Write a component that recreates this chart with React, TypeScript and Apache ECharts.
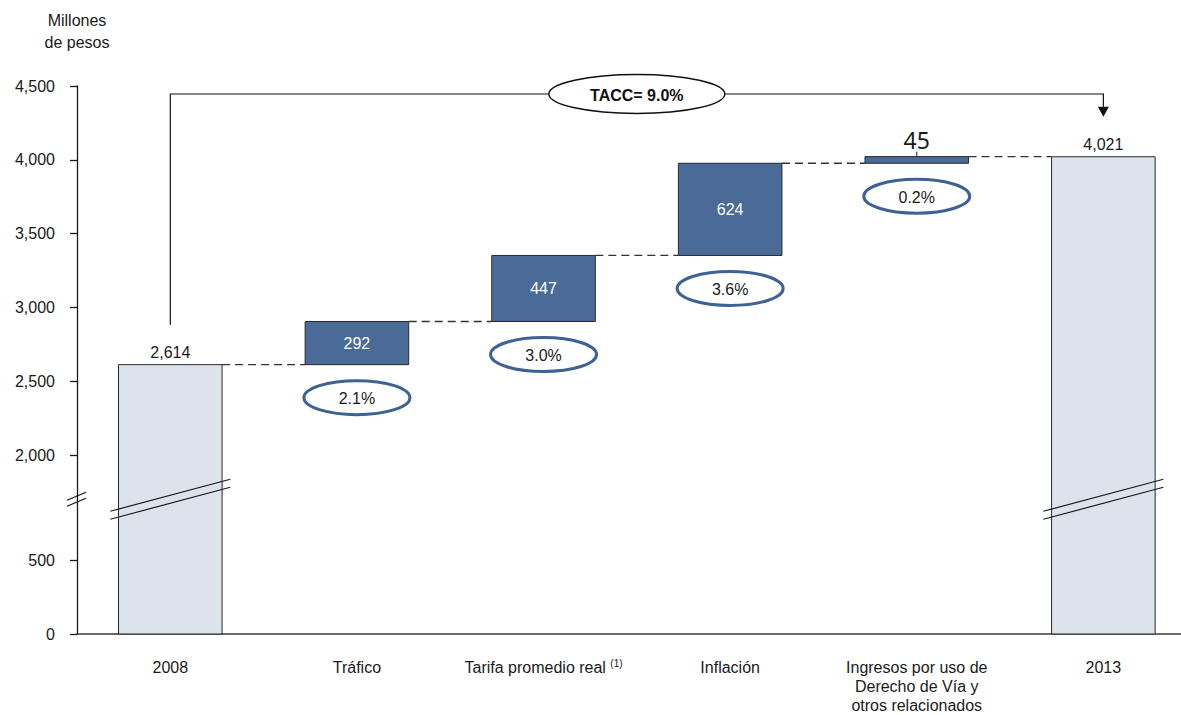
import React, { useEffect, useRef } from 'react';
import * as echarts from 'echarts';

// Revenue bridge 2008 -> 2013 (millones de pesos)
const categories = [
  '2008',
  'Tráfico',
  'Tarifa promedio real',
  'Inflación',
  'Ingresos por uso de\nDerecho de Vía y\notros relacionados',
  '2013',
];
const footnoteMarks = ['', '', '(1)', '', '', ''];
const startTotal = 2614;
const increments = [292, 447, 624, 45];
const endTotal = 4021;
const growthRates = ['2.1%', '3.0%', '3.6%', '0.2%'];
const cagrText = 'TACC= 9.0%';
const yTicks = [0, 500, 2000, 2500, 3000, 3500, 4000, 4500];
const yTitle = 'Millones\nde pesos';

// Broken value axis: the span 500..2000 is squeezed into CUT_SPAN axis units.
const CUT_LOW = 500;
const CUT_HIGH = 2000;
const CUT_SPAN = 709;
const SHIFT = CUT_HIGH - CUT_LOW - CUT_SPAN;
const toAxis = (v: number) => (v >= CUT_HIGH ? v - SHIFT : v);
const fromAxis = (a: number) => (a > CUT_LOW + CUT_SPAN / 2 ? a + SHIFT : a);
const BREAK_AT = CUT_LOW + 412; // axis units where the break marks are drawn

const FONT = "'Liberation Sans', Arial, sans-serif";
const INK = '#1a1a1a';
const fmt = (v: number) => Math.round(v).toLocaleString('en-US');

type Row = { idx: number; low: number; high: number; kind: 'total' | 'step'; delta: number };

const rows: Row[] = [];
rows.push({ idx: 0, low: 0, high: startTotal, kind: 'total', delta: startTotal });
let running = startTotal;
increments.forEach((d, k) => {
  rows.push({ idx: k + 1, low: running, high: running + d, kind: 'step', delta: d });
  running += d;
});
rows.push({ idx: categories.length - 1, low: 0, high: endTotal, kind: 'total', delta: endTotal });

const categoryPositions = categories.map((_, i) => i);

export default function App() {
  const ref = useRef<HTMLDivElement>(null);

  useEffect(() => {
    if (!ref.current) return;
    const chart = echarts.init(ref.current, null, { renderer: 'svg' });

    const renderBar = (params: any, api: any) => {
      const r = rows[params.dataIndex];
      const band = api.size([1, 0])[0];
      const w = band * 0.555;
      const [cx, yTop] = api.coord([r.idx, toAxis(r.high)]);
      const yBot = api.coord([r.idx, toAxis(r.low)])[1];
      const children: any[] = [];

      children.push({
        type: 'rect',
        shape: { x: cx - w / 2, y: yTop, width: w, height: yBot - yTop },
        style: { fill: r.kind === 'total' ? '#DCE3ED' : '#4A6A98', stroke: '#2a2a2a', lineWidth: 1 },
      });

      // dashed connector to the next column
      if (r.idx < categories.length - 1) {
        const nextX = api.coord([r.idx + 1, toAxis(r.high)])[0] - w / 2;
        children.push({
          type: 'line',
          shape: { x1: cx + w / 2, y1: yTop, x2: nextX, y2: yTop },
          style: { stroke: '#333', lineWidth: 1.3, lineDash: [8, 5] },
        });
      }

      if (r.kind === 'total') {
        children.push({
          type: 'text',
          style: {
            text: fmt(r.high), x: cx, y: yTop - 4, align: 'center', verticalAlign: 'bottom',
            fontSize: 16, fontFamily: FONT, fill: INK,
          },
        });
        // break marks across the column
        const by = api.coord([r.idx, BREAK_AT])[1];
        [-4, 4].forEach((dy) => {
          children.push({
            type: 'line',
            shape: { x1: cx - 60, y1: by + dy + 16, x2: cx + 60, y2: by + dy - 16 },
            style: { stroke: '#1a1a1a', lineWidth: 1.2 },
          });
        });
      } else {
        if (yBot - yTop > 16) {
          children.push({
            type: 'text',
            style: {
              text: String(r.delta), x: cx, y: (yTop + yBot) / 2, align: 'center', verticalAlign: 'middle',
              fontSize: 16, fontFamily: FONT, fill: '#ffffff',
            },
          });
        } else {
          children.push({
            type: 'line',
            shape: { x1: cx, y1: yTop, x2: cx, y2: yTop - 5 },
            style: { stroke: '#222', lineWidth: 1 },
          });
          children.push({
            type: 'text',
            style: {
              text: String(r.delta), x: cx, y: yTop - 5, align: 'center', verticalAlign: 'bottom',
              fontSize: 23, fontFamily: "'Noto Sans', 'Open Sans', sans-serif", fill: INK,
            },
          });
        }
        const cy = yBot + 33;
        children.push({
          type: 'ellipse',
          shape: { cx, cy, rx: 53, ry: 17 },
          style: { fill: '#ffffff', stroke: '#3E6293', lineWidth: 3 },
        });
        children.push({
          type: 'text',
          style: {
            text: growthRates[r.idx - 1], x: cx, y: cy + 1, align: 'center', verticalAlign: 'middle',
            fontSize: 16, fontFamily: FONT, fill: INK,
          },
        });
      }
      return { type: 'group', children };
    };

    const renderAnnotation = (params: any, api: any) => {
      const cs = params.coordSys;
      const last = categories.length - 1;
      const [x0, y0bar] = api.coord([0, toAxis(startTotal)]);
      const [x5, y5bar] = api.coord([last, toAxis(endTotal)]);
      const yTop = cs.y + 8;
      const y0 = y0bar - 40;
      const tip = y5bar - 40;
      const headTop = tip - 10;
      const midX = (x0 + x5) / 2;
      const ax = cs.x;
      const by = api.coord([0, BREAK_AT])[1];
      return {
        type: 'group',
        children: [
          {
            type: 'polyline',
            shape: { points: [[x0, y0], [x0, yTop], [x5, yTop], [x5, headTop]] },
            style: { stroke: '#111', lineWidth: 1.2, fill: 'none' },
          },
          {
            type: 'polygon',
            shape: { points: [[x5 - 5.5, headTop], [x5 + 5.5, headTop], [x5, tip]] },
            style: { fill: '#111' },
          },
          {
            type: 'ellipse',
            shape: { cx: midX, cy: yTop, rx: 88, ry: 19.5 },
            style: { fill: '#ffffff', stroke: '#111', lineWidth: 1.4 },
          },
          {
            type: 'text',
            style: {
              text: cagrText, x: midX, y: yTop + 1, align: 'center', verticalAlign: 'middle',
              fontSize: 16, fontWeight: 'bold', fontFamily: FONT, fill: '#111',
            },
          },
          {
            type: 'line',
            shape: { x1: ax - 10, y1: by + 1, x2: ax + 9, y2: by - 7 },
            style: { stroke: '#111', lineWidth: 1.2 },
          },
          {
            type: 'line',
            shape: { x1: ax - 10, y1: by + 7, x2: ax + 9, y2: by - 1 },
            style: { stroke: '#111', lineWidth: 1.2 },
          },
        ],
      };
    };

    const tickPositions = yTicks.map(toAxis);

    chart.setOption({
      animation: false,
      backgroundColor: '#ffffff',
      grid: { left: 77, top: 86, right: 0, height: 549, containLabel: false },
      xAxis: {
        type: 'value',
        min: -0.5,
        max: 5.416,
        axisLine: { show: true, onZero: false, lineStyle: { color: '#3a3a3a', width: 1.6 } },
        axisTick: { show: false },
        splitLine: { show: false },
        axisLabel: {
          customValues: categoryPositions,
          margin: 24,
          fontSize: 16,
          lineHeight: 19,
          color: INK,
          fontFamily: FONT,
          formatter: (v: number) => {
            const i = Math.round(v);
            const name = categories[i] ?? '';
            return footnoteMarks[i] ? `${name} {sup|${footnoteMarks[i]}}` : name;
          },
          rich: {
            sup: { fontSize: 10, lineHeight: 19, verticalAlign: 'top', color: INK, fontFamily: FONT },
          },
        },
      },
      yAxis: {
        type: 'value',
        min: 0,
        max: toAxis(yTicks[yTicks.length - 1]),
        name: yTitle,
        nameLocation: 'end',
        nameGap: 33,
        nameTextStyle: { fontSize: 16, lineHeight: 22, color: INK, fontFamily: FONT, align: 'center' },
        axisLine: { show: true, onZero: false, lineStyle: { color: '#1a1a1a', width: 1.3 } },
        axisTick: { show: true, length: 7, customValues: tickPositions, lineStyle: { color: '#1a1a1a', width: 1.3 } },
        axisLabel: {
          customValues: tickPositions,
          formatter: (v: number) => fmt(fromAxis(v)),
          margin: 22,
          fontSize: 16,
          color: INK,
          fontFamily: FONT,
        },
        splitLine: { show: false },
      },
      series: [
        {
          type: 'custom',
          name: 'annotation',
          clip: false,
          silent: true,
          z: 1,
          renderItem: renderAnnotation,
          data: [[0, 0]],
        },
        {
          type: 'custom',
          name: 'bridge',
          clip: false,
          silent: true,
          z: 2,
          renderItem: renderBar,
          encode: { x: 0, y: [1, 2] },
          data: rows.map((r) => [r.idx, toAxis(r.low), toAxis(r.high)]),
        },
      ],
    });

    return () => chart.dispose();
  }, []);

  return (
    <div
      ref={ref}
      style={{ position: 'absolute', left: 0, top: 0, width: 1181, height: 715, background: '#fff' }}
    />
  );
}
